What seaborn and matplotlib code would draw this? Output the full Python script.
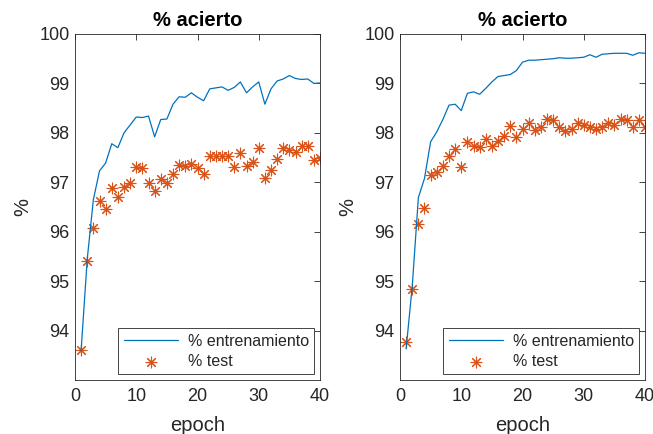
import numpy as np
import pandas as pd
import matplotlib
matplotlib.use("Agg")
import matplotlib.pyplot as plt
import seaborn as sns

epochs = list(range(1, 41))

train_left = [93.60, 95.45, 96.65, 97.23, 97.39, 97.78, 97.70, 98.00, 98.16, 98.32,
              98.31, 98.34, 97.92, 98.27, 98.28, 98.58, 98.73, 98.72, 98.81, 98.72,
              98.65, 98.89, 98.91, 98.93, 98.86, 98.92, 99.03, 98.81, 98.93, 99.03,
              98.58, 98.89, 99.05, 99.09, 99.16, 99.10, 99.08, 99.09, 99.00, 99.01]
test_left = [93.60, 95.41, 96.08, 96.62, 96.45, 96.88, 96.71, 96.91, 96.98, 97.30,
             97.28, 96.98, 96.82, 97.07, 96.98, 97.17, 97.35, 97.32, 97.37, 97.28,
             97.17, 97.53, 97.53, 97.54, 97.53, 97.30, 97.60, 97.32, 97.42, 97.69,
             97.09, 97.24, 97.48, 97.70, 97.66, 97.62, 97.74, 97.74, 97.45, 97.49]

train_right = [93.63, 94.90, 96.69, 97.08, 97.82, 98.02, 98.27, 98.56, 98.58, 98.45,
               98.80, 98.83, 98.78, 98.90, 99.03, 99.14, 99.16, 99.18, 99.26, 99.43,
               99.47, 99.47, 99.48, 99.49, 99.50, 99.52, 99.51, 99.51, 99.52, 99.53,
               99.58, 99.53, 99.59, 99.60, 99.61, 99.61, 99.61, 99.57, 99.62, 99.61]
test_right = [93.77, 94.85, 96.15, 96.47, 97.14, 97.20, 97.32, 97.53, 97.68, 97.30,
              97.82, 97.74, 97.72, 97.87, 97.74, 97.83, 97.93, 98.13, 97.91, 98.08,
              98.20, 98.05, 98.11, 98.28, 98.27, 98.11, 98.04, 98.08, 98.20, 98.16,
              98.11, 98.07, 98.11, 98.20, 98.15, 98.28, 98.27, 98.11, 98.26, 98.11]

title_text = "% acierto"
xlabel_text = "epoch"
ylabel_text = "%"
legend_labels = ["% entrenamiento", "% test"]
xticks = [0, 10, 20, 30, 40]
yticks = [94, 95, 96, 97, 98, 99, 100]

sns.set_theme(style="white")
plt.rcParams['font.family'] = ['Liberation Sans', 'DejaVu Sans']

blue = "#0072BD"
orange = "#D95319"
axcol = "#262626"

fig = plt.figure(figsize=(6.53, 4.34), dpi=100)
positions = [[75/653, 54/434, 245/653, 346/434],
             [400/653, 54/434, 245/653, 346/434]]

for pos, tr, te in zip(positions, [train_left, train_right], [test_left, test_right]):
    ax = fig.add_axes(pos)
    df = pd.DataFrame({"epoch": epochs, "train": tr, "test": te})
    sns.lineplot(data=df, x="epoch", y="train", ax=ax, color=blue, linewidth=0.9,
                 label=legend_labels[0])
    sns.scatterplot(data=df, x="epoch", y="test", ax=ax, color=orange,
                    marker=(8, 2, 0), s=60, linewidth=0.8, label=legend_labels[1])
    ax.set_xlim(0, 40)
    ax.set_ylim(93, 100)
    ax.set_xticks(xticks)
    ax.set_yticks(yticks)
    ax.tick_params(direction="in", top=True, right=True, length=4, width=0.6,
                   colors=axcol, labelsize=13, pad=4)
    ax.tick_params(axis="x", pad=6)
    for sp in ax.spines.values():
        sp.set_visible(True)
        sp.set_color(axcol)
        sp.set_linewidth(0.6)
    ax.set_title(title_text, fontsize=14.5, fontweight="bold", color="black", pad=6)
    ax.set_xlabel(xlabel_text, fontsize=14.5, color=axcol, labelpad=8)
    ax.set_ylabel(ylabel_text, fontsize=14.5, color=axcol, labelpad=5)
    leg = ax.legend(loc="lower right", fontsize=11.5, frameon=True, fancybox=False,
                    framealpha=1, edgecolor=axcol, borderaxespad=0.35,
                    handlelength=3.4, handletextpad=0.6, borderpad=0.35,
                    labelspacing=0.3)
    leg.get_frame().set_linewidth(0.6)

fig.savefig("out.png", dpi=100)
